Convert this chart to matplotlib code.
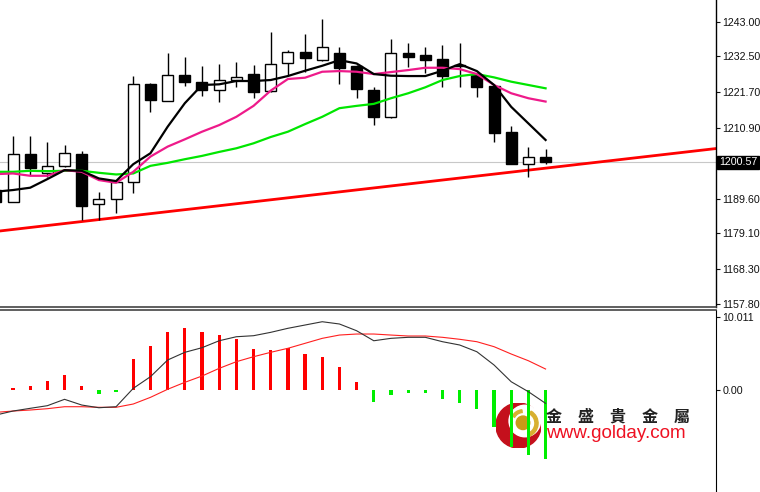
import matplotlib
matplotlib.use("Agg")
import matplotlib.pyplot as plt
import matplotlib.patches as mpatches
import matplotlib.transforms as mtransforms
import numpy as np

# candles (index 0 is the partly hidden one at the left edge)
opens = [1192.2, 1188.7, 1203.1, 1197.4, 1199.5, 1203.1, 1187.9, 1189.5, 1194.7, 1224.2, 1219.2,
         1226.8, 1224.9, 1222.4, 1225.3, 1227.2, 1222.1, 1230.5, 1233.9, 1231.4, 1233.6, 1229.6,
         1222.4, 1214.3, 1233.5, 1232.9, 1231.7, 1229.9, 1226.9, 1223.6, 1209.6, 1200.2, 1202.2]
highs = [1194.0, 1208.5, 1208.5, 1206.7, 1205.8, 1204.1, 1191.7, 1195.0, 1226.6, 1224.5, 1233.5,
         1232.4, 1229.7, 1230.1, 1230.8, 1229.9, 1240.0, 1234.5, 1239.3, 1243.8, 1235.5, 1229.8,
         1223.4, 1237.7, 1236.7, 1235.5, 1236.0, 1236.7, 1227.2, 1223.8, 1211.5, 1205.3, 1204.5]
lows = [1187.0, 1188.5, 1196.7, 1196.2, 1199.3, 1183.1, 1183.1, 1185.2, 1191.2, 1215.8, 1219.0,
        1223.6, 1220.6, 1218.9, 1223.2, 1219.9, 1221.8, 1226.9, 1227.9, 1231.2, 1224.2, 1219.9,
        1211.8, 1214.0, 1229.4, 1227.4, 1223.4, 1223.2, 1220.4, 1206.8, 1200.0, 1196.2, 1200.2]
closes = [1188.6, 1203.1, 1198.8, 1199.5, 1203.5, 1187.5, 1189.5, 1194.7, 1224.2, 1219.4, 1226.8,
          1224.9, 1222.4, 1225.4, 1226.2, 1221.9, 1230.1, 1233.8, 1232.1, 1235.3, 1228.9, 1222.6,
          1214.3, 1233.5, 1232.4, 1231.4, 1226.7, 1229.5, 1223.4, 1209.3, 1200.2, 1202.2, 1200.7]

ma_fast = [1191.7, 1192.2, 1192.9, 1195.5, 1198.2, 1198.0, 1195.7, 1194.9, 1200.0, 1203.3, 1211.3,
           1218.4, 1223.9, 1224.1, 1225.1, 1225.1, 1225.4, 1226.6, 1228.2, 1229.7, 1231.4, 1230.4,
           1227.2, 1226.7, 1226.6, 1226.6, 1228.2, 1230.2, 1228.1, 1223.9, 1217.3, 1212.3, 1207.3]
ma_mid = [1197.0, 1197.2, 1196.5, 1196.5, 1198.2, 1197.7, 1195.2, 1194.4, 1197.7, 1202.3, 1205.3,
          1207.5, 1209.8, 1211.8, 1214.3, 1217.6, 1222.2, 1225.7, 1226.1, 1227.9, 1228.1, 1227.9,
          1227.2, 1227.8, 1228.4, 1229.1, 1229.1, 1228.7, 1227.2, 1223.9, 1221.4, 1219.9, 1218.9]
ma_slow = [1197.7, 1197.7, 1198.0, 1197.9, 1198.0, 1198.0, 1197.4, 1196.9, 1197.2, 1199.5, 1200.4,
           1201.5, 1202.5, 1203.7, 1204.8, 1206.3, 1208.2, 1209.8, 1212.1, 1214.3, 1216.9, 1217.6,
           1218.2, 1219.9, 1221.4, 1223.2, 1225.4, 1226.6, 1227.2, 1226.2, 1224.9, 1223.9, 1222.9]

# trend line anchors (candle index, price)
trend_x = [1, 32]
trend_y = [1180.3, 1198.8]
last_price = 1200.57

price_ticks = [1243.00, 1232.50, 1221.70, 1210.90, 1189.60, 1179.10, 1168.30, 1157.80]

macd_hist = [0.0, 0.23, 0.59, 1.23, 2.09, 0.55, -0.55, -0.3, 4.19, 6.05, 7.96, 8.42, 7.88, 7.51,
             6.92, 5.6, 5.46, 5.69, 4.92, 4.55, 3.1, 1.05, -1.6, -0.68, -0.45, -0.45, -1.23, -1.82,
             -2.64, -5.1, -7.74, -8.88, -9.47]
macd_main = [-3.42, -2.87, -2.5, -2.14, -1.27, -2.05, -2.42, -2.28, 0.23, 1.82, 4.1, 5.15, 5.78,
             6.73, 7.28, 7.42, 7.88, 8.43, 8.88, 9.33, 9.02, 8.1, 6.73, 7.06, 7.2, 7.2, 6.6, 6.15,
             5.23, 3.42, 1.13, -0.23, -1.82]
macd_signal = [-3.05, -2.87, -2.73, -2.55, -2.28, -2.28, -2.36, -2.36, -1.91, -1.0, 0.1, 1.05, 1.91,
               2.96, 3.87, 4.55, 5.15, 5.7, 6.38, 7.06, 7.51, 7.65, 7.65, 7.51, 7.38, 7.38, 7.2, 6.93,
               6.6, 5.92, 4.92, 4.0, 2.87]
macd_ticks = [10.011, 0.0]
macd_labels = ["10.011", "0.00"]

W, H = 760, 492
fig = plt.figure(figsize=(W / 100, H / 100), dpi=100)
ax = fig.add_axes([0, 185 / H, 716 / W, 307 / H])
ax2 = fig.add_axes([0, 0, 716 / W, 182.5 / H])
ax2.patch.set_visible(False)
ax2.set_zorder(3)

idx = np.arange(len(opens))
xlim = (0.243, 41.92)
label_font = dict(family="Liberation Sans", fontsize=7.7)

# --- price panel
ax.axhline(last_price, color="#c8c8c8", lw=0.8, zorder=1)
ax.axline((trend_x[0], trend_y[0]), (trend_x[1], trend_y[1]), color="#ff0000", lw=2, zorder=2)

ax.vlines(idx, lows, highs, color="black", lw=1, zorder=3)
o = np.array(opens)
c = np.array(closes)
bottoms = np.minimum(o, c)
heights = np.maximum(np.abs(c - o), 0.3)
face = ["white" if cl >= op else "black" for op, cl in zip(opens, closes)]
ax.bar(idx, heights, bottom=bottoms, width=0.64, color=face, edgecolor="black", lw=1, zorder=4)

ax.plot(idx, ma_slow, color="#00e600", lw=1.6, zorder=5)
ax.plot(idx, ma_mid, color="#ee1a8a", lw=1.6, zorder=5)
ax.plot(idx, ma_fast, color="black", lw=1.6, zorder=6)

ax.set_xlim(*xlim)
ax.set_ylim(1156.9, 1249.55)
ax.set_xticks([])
ax.yaxis.tick_right()
ax.set_yticks(price_ticks)
ax.set_yticklabels([f"{t:.2f}" for t in price_ticks], **label_font)
ax.tick_params(axis="y", direction="out", length=3, width=0.8, pad=1.5, colors="#111111")
for side in ("top", "left"):
    ax.spines[side].set_visible(False)
ax.spines["right"].set_linewidth(1.0)
ax.spines["bottom"].set_color("#444444")
ax.spines["bottom"].set_linewidth(1.2)

trans = mtransforms.blended_transform_factory(ax.transAxes, ax.transData)
ax.text(1.004, last_price, f"{last_price:.2f}", transform=trans, ha="left", va="center",
        color="white", bbox=dict(boxstyle="square,pad=0.15", fc="black", ec="black"),
        clip_on=False, **label_font)

# --- MACD panel
hist_colors = ["#ff0000" if v >= 0 else "#00ee00" for v in macd_hist]
ax2.bar(idx, macd_hist, width=0.19, color=hist_colors, zorder=2)
ax2.plot(idx, macd_signal, color="#ff2020", lw=0.8, zorder=3)
ax2.plot(idx, macd_main, color="#333333", lw=0.8, zorder=3)
ax2.set_xlim(*xlim)
ax2.set_ylim(-13.93, 11.0)
ax2.set_xticks([])
ax2.yaxis.tick_right()
ax2.set_yticks(macd_ticks)
ax2.set_yticklabels(macd_labels, **label_font)
ax2.tick_params(axis="y", direction="out", length=3, width=0.8, pad=1.5, colors="#111111")
for side in ("bottom", "left"):
    ax2.spines[side].set_visible(False)
ax2.spines["top"].set_color("#444444")
ax2.spines["top"].set_linewidth(1.2)

# --- logo
lax = fig.add_axes([496 / W, (H - 448) / H, 45 / W, 45 / H])
lax.set_xlim(-1, 1)
lax.set_ylim(-1, 1)
lax.set_aspect("equal")
lax.axis("off")
lax.set_zorder(1)
lax.add_patch(mpatches.Circle((0, 0), 1.0, color="#c4101c"))
lax.add_patch(mpatches.Circle((0.28, 0.2), 0.7, color="white"))
lax.add_patch(mpatches.Wedge((0.25, 0.1), 0.62, -70, 60, width=0.14, color="#d8b030"))
lax.add_patch(mpatches.Wedge((0.2, 0.15), 0.55, 95, 150, width=0.12, color="#d8b030"))
lax.add_patch(mpatches.Circle((0.2, 0.12), 0.3, color="#c89a18"))

fig.text(546.5 / W, 1 - 416.5 / H, "金　盛　貴　金　屬", family=["Noto Sans CJK TC", "DejaVu Sans"],
         fontsize=11.5, fontweight="bold", color="#222222", ha="left", va="center", zorder=4)
fig.text(546.5 / W, 1 - 433.5 / H, "www.golday.com", family="Liberation Sans",
         fontsize=13.6, color="#ee1122", ha="left", va="center", zorder=4)

fig.savefig("out.png", dpi=100, facecolor="white")
